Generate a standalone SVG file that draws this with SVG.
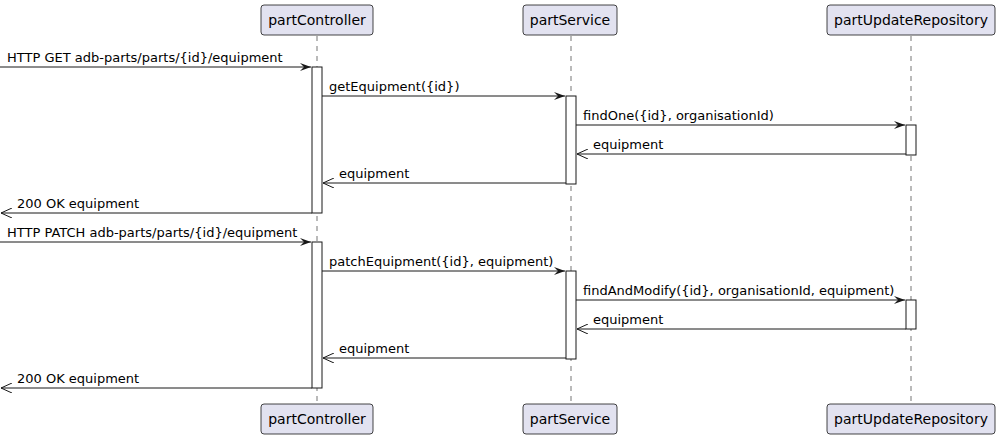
<svg xmlns="http://www.w3.org/2000/svg" width="1000" height="440" viewBox="0 0 1000 440">
<style>
.box{fill:#E2E2F0;stroke:#181818;stroke-width:0.8}
.life{stroke:#181818;stroke-width:0.6;stroke-dasharray:5,5}
.act{fill:#fff;stroke:#181818;stroke-width:1}
.msg{stroke:#181818;stroke-width:1}
text{font-family:"DejaVu Sans",sans-serif;font-size:13px;fill:#000}
.pt{font-size:14px;text-anchor:middle}
</style>
<defs>
<marker id="ar" markerWidth="12" markerHeight="10" refX="11" refY="5" orient="auto" markerUnits="userSpaceOnUse"><path d="M0,1 L11,5 L0,9 L4,5 Z" fill="#181818"/></marker>
<marker id="al" markerWidth="12" markerHeight="10" refX="11" refY="5" orient="auto" markerUnits="userSpaceOnUse"><path d="M0,0 L11,5 L0,10" fill="none" stroke="#181818" stroke-width="1"/></marker>
</defs>
<g id="lifelines">
<line class="life" x1="317" y1="36" x2="317" y2="404"/>
<line class="life" x1="571" y1="36" x2="571" y2="404"/>
<line class="life" x1="911" y1="36" x2="911" y2="404"/>
</g>
<g id="partController">
<rect class="box" x="261" y="5" width="112" height="30" rx="3"/><text class="pt" x="317" y="25">partController</text>
<rect class="box" x="261" y="404" width="112" height="30" rx="3"/><text class="pt" x="317" y="424">partController</text>
<rect class="act" x="312" y="67" width="10" height="146"/>
<rect class="act" x="312" y="242" width="10" height="146"/>
</g>
<g id="partService">
<rect class="box" x="523" y="5" width="94" height="30" rx="3"/><text class="pt" x="570" y="25">partService</text>
<rect class="box" x="523" y="404" width="94" height="30" rx="3"/><text class="pt" x="570" y="424">partService</text>
<rect class="act" x="566" y="96" width="10" height="88"/>
<rect class="act" x="566" y="271" width="10" height="88"/>
</g>
<g id="partUpdateRepository">
<rect class="box" x="827" y="5" width="168" height="30" rx="3"/><text class="pt" x="911" y="25">partUpdateRepository</text>
<rect class="box" x="827" y="404" width="168" height="30" rx="3"/><text class="pt" x="911" y="424">partUpdateRepository</text>
<rect class="act" x="906" y="125" width="10" height="30"/>
<rect class="act" x="906" y="300" width="10" height="29"/>
</g>
<g id="connectors">
<line class="msg" x1="0" y1="67" x2="311" y2="67" marker-end="url(#ar)"/><text x="7" y="62">HTTP GET adb-parts/parts/{id}/equipment</text>
<line class="msg" x1="322" y1="96" x2="565" y2="96" marker-end="url(#ar)"/><text x="329" y="91">getEquipment({id})</text>
<line class="msg" x1="576" y1="125" x2="905" y2="125" marker-end="url(#ar)"/><text x="583" y="120">findOne({id}, organisationId)</text>
<line class="msg" x1="906" y1="154" x2="577" y2="154" marker-end="url(#al)"/><text x="593" y="149">equipment</text>
<line class="msg" x1="566" y1="183" x2="323" y2="183" marker-end="url(#al)"/><text x="339" y="178">equipment</text>
<line class="msg" x1="312" y1="213" x2="1" y2="213" marker-end="url(#al)"/><text x="17" y="208">200 OK equipment</text>
<line class="msg" x1="0" y1="242" x2="311" y2="242" marker-end="url(#ar)"/><text x="7" y="237">HTTP PATCH adb-parts/parts/{id}/equipment</text>
<line class="msg" x1="322" y1="271" x2="565" y2="271" marker-end="url(#ar)"/><text x="329" y="266">patchEquipment({id}, equipment)</text>
<line class="msg" x1="576" y1="300" x2="905" y2="300" marker-end="url(#ar)"/><text x="583" y="295">findAndModify({id}, organisationId, equipment)</text>
<line class="msg" x1="906" y1="329" x2="577" y2="329" marker-end="url(#al)"/><text x="593" y="324">equipment</text>
<line class="msg" x1="566" y1="358" x2="323" y2="358" marker-end="url(#al)"/><text x="339" y="353">equipment</text>
<line class="msg" x1="312" y1="388" x2="1" y2="388" marker-end="url(#al)"/><text x="17" y="383">200 OK equipment</text>
</g>
</svg>
